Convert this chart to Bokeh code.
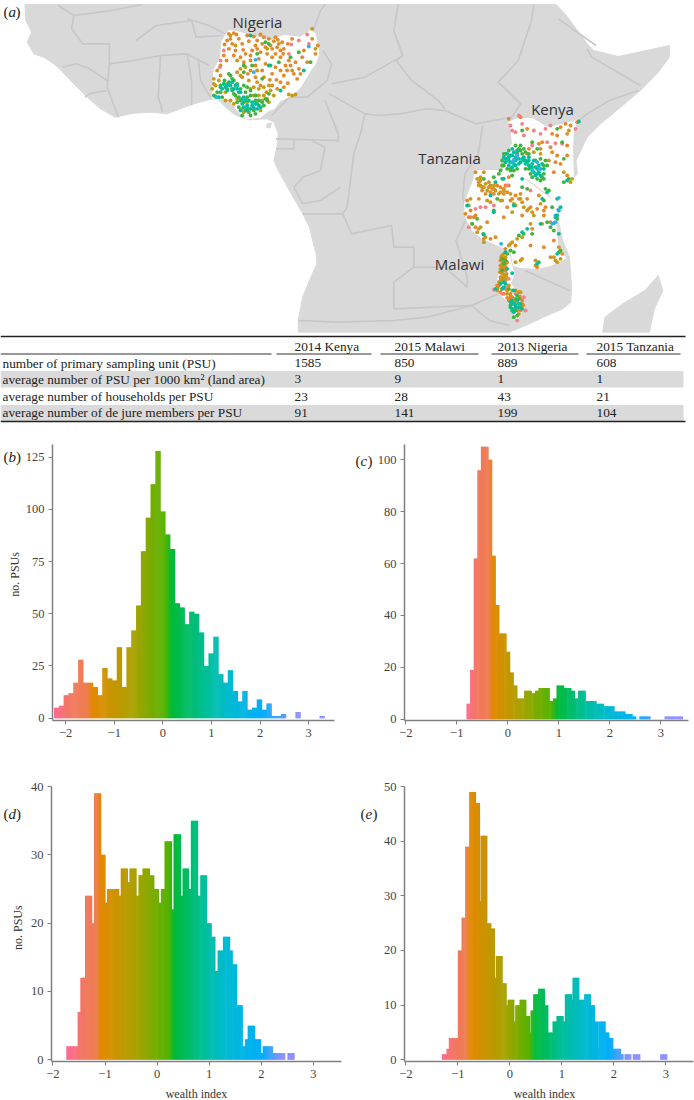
from bokeh.plotting import figure
from bokeh.layouts import column, row
from bokeh.models import Range1d, Label, FixedTicker
from bokeh.embed import file_html
from bokeh.resources import INLINE
import numpy as np

SERIF = "Liberation Serif"

# ---------- table ----------
table_columns = ["2014 Kenya", "2015 Malawi", "2013 Nigeria", "2015 Tanzania"]
table_rows = ["number of primary sampling unit (PSU)",
              "average number of PSU per 1000 km\u00b2 (land area)",
              "average number of households per PSU",
              "average number of de jure members per PSU"]
table_values = [["1585", "850", "889", "608"],
                ["3", "9", "1", "1"],
                ["23", "28", "43", "21"],
                ["91", "141", "199", "104"]]

# ---------- histograms: bin edges and counts ----------
b_start, b_width = -2.24, 0.0993
b_counts = [5, 6, 11, 12, 17, 28, 17, 17, 15, 11, 24, 19, 18, 34, 15, 34, 42, 54, 80, 96, 112, 128,
            99, 88, 81, 55, 53, 45, 51, 50, 41, 25, 31, 39, 21, 17, 23, 13, 8, 13, 4, 5, 9, 4, 7,
            1, 1, 2, 0, 0, 3, 0, 0, 0, 0, 1]
c_start, c_width = -0.81, 0.0706
c_counts = [6, 19, 62, 96, 105, 105, 100, 63, 44, 33, 33, 26, 18, 13, 8, 8, 11, 11, 10, 11, 12, 12, 12,
            7, 8, 13, 13, 12, 12, 11, 8, 11, 11, 7, 7, 7, 6, 6, 5, 5, 5, 3, 3, 3, 2, 2, 1, 0, 1, 1, 1,
            0, 0, 0, 0, 1, 1, 1, 1, 1]
d_edges = [-1.744, -1.615, -1.526, -1.474, -1.385, -1.256, -1.212, -1.083, -1.0, -.962, -.737, -.699,
           -.571, -.532, -.404, -.359, -.282, -.147, -.064, .026, .071, .141, .276, .314, .449, .487,
           .603, .647, .776, .827, .949, 1.038, 1.109, 1.160, 1.263, 1.391, 1.442, 1.526, 1.635, 1.686,
           1.737, 1.872, 1.987, 2.026, 2.212, 2.449, 2.5, 2.628]
d_counts = [2, 2, 7, 12, 24, 20, 39, 30, 23, 25, 24, 28, 26, 28, 24, 27, 28, 27, 25, 23, 25, 32, 22, 33,
            24, 28, 25, 35, 24, 27, 20, 18, 13, 16, 18, 16, 14, 8, 2, 3, 5, 3, 1, 2, 1, 0, 1]
e_edges = [-1.308, -1.218, -1.173, -1.0, -.929, -.859, -.782, -.660, -.583, -.564, -.442, -.365, -.295,
           -.269, -.147, -.071, -.045, .077, .103, .186, .308, .378, .397, .449, .545, .667, .731, .821,
           .897, 1.026, 1.058, 1.192, 1.205, 1.327, 1.429, 1.551, 1.628, 1.686, 1.699, 1.833, 1.904,
           1.981, 2.128, 2.179, 2.205, 2.327, 2.365, 2.5, 2.891, 3.019]
e_counts = [1, 2, 4, 20, 26, 39, 49, 47, 29, 41, 25, 24, 15, 19, 14, 10, 11, 7, 10, 11, 8, 5, 9, 12, 13,
            10, 5, 7, 8, 7, 12, 11, 15, 11, 12, 10, 7, 2, 7, 5, 4, 2, 1, 0, 1, 0, 1, 0, 1]

hue_colors = ["#FF6C91", "#F2785F", "#EE7D50", "#E38900", "#A9A200", "#53B400", "#00BA38",
              "#00BF9A", "#00BBD0", "#00AEFA", "#8F91FF"]
b_hue_at = [-2.2, -1.9, -1.56, -1.45, -0.6, 0.05, 0.18, 0.9, 1.35, 2.0, 2.8]
c_hue_at = [-0.8, -0.6, -0.36, -0.3, 0.25, 0.85, 0.98, 1.5, 1.95, 2.5, 3.1]
d_hue_at = [-1.7, -1.4, -1.17, -1.08, -0.4, 0.22, 0.33, 0.9, 1.3, 2.0, 2.4]
e_hue_at = [-1.3, -1.05, -0.85, -0.76, -0.1, 0.38, 0.48, 1.0, 1.45, 1.9, 2.3]

# ---------- map outlines ----------
land_mainland = [(55, 12), (57, 60), (70, 95), (60, 125), (75, 160), (100, 172), (125, 195), (140, 215), (165, 250),
                 (195, 290), (225, 325), (258, 350), (300, 338), (340, 335), (375, 340), (430, 312), (470, 297),
                 (490, 298), (510, 325), (530, 345), (560, 358), (600, 355), (615, 365), (625, 400), (622, 440),
                 (615, 480), (625, 510), (650, 570), (680, 640), (695, 680), (710, 760), (712, 790), (695, 840),
                 (680, 890), (670, 960), (670, 995), (1145, 995), (1190, 970), (1230, 945), (1265, 925),
                 (1283, 905), (1285, 860), (1280, 770), (1265, 720), (1255, 660), (1255, 600), (1270, 560),
                 (1298, 520), (1295, 480), (1320, 410), (1350, 370), (1400, 315), (1440, 270), (1480, 215),
                 (1505, 170), (1505, 135), (1390, 168), (1335, 150), (1320, 130), (1290, 75), (1270, 40), (1250, 12)]
land_madagascar = [(1480, 825), (1490, 870), (1470, 930), (1460, 995), (1355, 995), (1360, 950), (1400, 910), (1450, 870)]
land_bioko = [(600, 370), (610, 368), (606, 383), (598, 380)]
border_lines = [
    [(130, 15), (165, 45), (240, 32), (320, 12)],
    [(165, 45), (160, 85), (185, 130), (245, 130), (245, 190), (300, 180), (360, 165), (420, 160), (440, 175), (470, 195)],
    [(305, 120), (350, 75), (430, 60), (440, 110), (500, 105)],
    [(420, 55), (470, 75), (505, 100)],
    [(360, 165), (355, 290), (365, 335)],
    [(420, 160), (430, 240), (430, 315)],
    [(445, 175), (450, 240), (475, 295)],
    [(245, 190), (240, 260), (265, 350)],
    [(140, 200), (170, 190), (200, 205), (240, 240)],
    [(240, 270), (200, 280), (190, 290)],
    [(705, 85), (720, 30), (730, 12)],
    [(725, 150), (745, 190), (735, 240), (690, 290), (650, 290), (610, 345)],
    [(895, 12), (885, 90), (905, 165), (890, 180), (925, 240), (985, 300), (1000, 325)],
    [(745, 250), (820, 230), (900, 170)],
    [(730, 300), (760, 400), (760, 425)],
    [(740, 280), (820, 340), (850, 345), (900, 340), (960, 325), (1000, 330), (1070, 370), (1150, 350)],
    [(1200, 12), (1195, 60), (1165, 180), (1120, 245), (1170, 310), (1150, 350)],
    [(1255, 55), (1340, 135)],
    [(1320, 145), (1330, 170), (1440, 255)],
    [(1435, 270), (1370, 300), (1320, 340), (1300, 362)],
    [(820, 340), (810, 400), (795, 460), (780, 620), (770, 640)],
    [(620, 415), (760, 420)],
    [(660, 420), (660, 445), (620, 445)],
    [(700, 420), (730, 440), (720, 510), (680, 530), (660, 560), (680, 610), (720, 600), (765, 560)],
    [(1085, 375), (1075, 460), (1045, 520), (1040, 590), (1050, 650), (1025, 720), (1050, 830), (1050, 860), (1000, 800), (930, 800)],
    [(680, 640), (770, 640), (790, 700), (880, 675), (885, 740), (930, 740), (930, 800), (885, 845), (885, 925), (1060, 915)],
    [(670, 960), (760, 965), (885, 960), (960, 950), (1060, 915), (1100, 960), (1145, 975)],
    [(1060, 915), (1120, 880), (1145, 860)],
    [(1180, 810), (1280, 870)],
]
white_nigeria = [(65, 60), (85, 30), (115, 35), (150, 45), (210, 60), (250, 45), (300, 50), (330, 30), (345, 40), (355, 100),
                 (345, 130), (330, 150), (300, 200), (275, 225), (240, 240), (220, 265), (205, 270), (180, 290), (140, 295),
                 (110, 270), (85, 235), (35, 235), (40, 150), (60, 110)]
white_east = [(508, 122), (517, 118), (532, 118), (547, 127), (557, 125), (577, 120), (573, 130), (572, 147), (573, 180),
              (560, 200), (557, 210), (555, 220), (557, 243), (565, 258), (550, 265), (537, 268), (520, 267), (513, 265),
              (510, 250), (493, 243), (480, 237), (472, 230), (465, 217), (464, 203), (473, 180), (475, 170), (483, 170),
              (503, 170), (508, 150), (512, 143), (510, 123)]
white_malawi = [(125, 130), (145, 130), (160, 190), (150, 220), (185, 260), (190, 290), (170, 330), (155, 300), (140, 270), (105, 240), (115, 190)]

# ---------- survey clusters, three crops of the map, by colour ----------
ng_orange = [(85,40),(100,38),(108,42),(72,72),(80,60),(95,70),(125,70),(140,45),(160,48),(180,42),(185,70),(205,55),(220,62),(235,70),(215,85),(240,90),(225,100),(250,85),(262,70),(275,55),(128,88),(135,100),(155,90),(165,75),(180,95),(195,80),(105,90),(70,105),(100,105),(130,125),(150,120),(175,115),(195,130),(265,120),(270,135),(285,125),(295,145),(260,150),(290,175),(280,160),(320,125),(345,100),(335,55),(352,75),(250,165),(240,185),(230,205),(262,188),(208,178),(165,170),(142,160),(125,170),(110,155),(180,195),(198,215),(215,160),(225,140),(310,90),(305,110),
             (90,55),(115,55),(145,62),(170,60),(190,50),(225,50),(245,65),(200,100),(215,110),(240,110),(120,110),(85,85),(150,105),(165,135),(185,150),(255,135),(275,150),(300,160),(240,150),(228,178),(250,200),(215,195),(78,120),(230,80),(210,75),(232,58),(248,100),(170,85)]
ng_gold = [(60,135),(50,150),(40,175),(35,205),(55,180),(80,190),(170,185),(175,205),(190,225),(205,245),(140,245),(130,275),(180,270),(275,225),(265,222),(285,222),(100,250),(75,215),(220,225),(335,25),(345,85),(150,150),(120,145),(145,180),(205,195),
           (110,120),(120,165),(135,140),(170,150),(190,170),(160,200),(190,200),(150,205),(210,210),(200,235),(45,195),(60,165),(40,190),(75,240),(90,240),(110,235),(125,265),(185,240),(160,225),(175,225),(200,85),(90,45),(105,75)]
ng_green = [(95,175),(85,160),(60,195),(72,180),(110,190),(120,205),(135,215),(150,225),(165,240),(120,240),(115,260),(140,262),(150,285),(170,250),(190,255),(205,220),(235,125),(205,70),(195,65),(170,100),(130,155),(270,110),(330,125),(295,95),(210,135),(140,200),(100,220),(65,230),(40,225),(125,285),(160,270),(200,240),
            (70,190),(80,205),(95,210),(105,225),(130,195),(150,210),(115,230),(130,245),(135,270),(145,275),(165,280),(185,245),(195,235),(90,165),(100,180),(60,215),(50,215),(165,225),(175,240),(140,230),(110,245),(130,135),(155,135),(185,175)]
ng_teal = [(75,200),(90,195),(100,205),(115,215),(85,185),(65,205),(130,230),(125,250),(145,240),(155,245),(160,262),(170,265),(150,265),(120,270),(110,205),(140,255),(205,135),(150,45),(310,150),(240,210),(45,228),(55,230),(180,260),
           (70,190),(80,195),(95,205),(105,195),(120,215),(80,210),(135,240),(140,270),(165,250),(175,255),(155,255),(130,260),(110,195),(95,185),(60,200),(125,235)]
ng_blue = [(160,155),(48,230),(325,78),(165,118)]
ng_pink = [(60,120),(320,42),(295,60),(265,100),(325,70),(272,72),(70,90),(58,140)]

ke_pink = [(155,60),(165,65),(150,45),(185,40),(220,60),(240,70),(255,55),(270,45),(305,100),(285,98),(260,95),(215,105),(345,55),(190,75),(175,15),(60,290),(45,295),(30,320),(100,285),(75,290),(210,240),(140,225)]
ke_orange = [(145,25),(180,20),(200,55),(235,100),(275,70),(290,75),(320,70),(330,45),(315,40),(300,50),(350,35),(240,115),(245,95),(270,110),(275,125),(290,135),(285,155),(320,135),(320,105),(265,150),(300,160),(280,185),(320,195),(60,210),(70,185),(45,185),(85,215),(95,235),(65,240),(75,250),(120,230),(135,225),(130,250),(150,270),(165,255),(180,250),(185,275),(165,285),(140,290),(120,270),(200,300),(215,305),(230,295),(250,300),(20,270),(15,310),(30,300),(55,265),(100,250),(145,200),(170,125),(200,130),(205,115),
             (55,215),(70,230),(90,245),(110,225),(120,245),(140,245),(155,265),(175,265),(60,225),(100,235),(130,235),(85,230),(200,265),(235,255),(210,290),(255,290),(90,275),(25,285),(40,320)]
ke_gold = [(50,205),(60,200),(75,220),(90,225),(105,240),(180,265),(205,295),(240,280),(325,60),(335,205),(330,215),(220,125),(240,130),(155,305),(80,270),(30,265),(65,230),(125,270),(310,185),(160,280),(220,315),(145,225),
           (55,225),(80,240),(115,250),(130,240),(100,225),(190,290),(150,250)]
ke_green = [(185,60),(215,95),(230,115),(305,95),(310,145),(125,205),(100,200),(70,205),(110,265),(185,230),(200,235),(265,240),(255,235),(310,215),(325,205),(275,290),(250,270),(100,300),(180,120),(190,115),(290,55),(50,325),(135,130),(175,115),(185,130),(195,125),(130,165),(150,180),(170,175),(140,175),(195,175),(215,200),(230,205),(245,200),(255,150),(250,190),(205,130),(260,165),(120,180),
            (125,150),(130,130),(145,120),(165,105),(180,105),(190,150),(205,175),(210,190),(240,210),(250,205),(225,150),(240,145),(250,165),(150,175),(160,180),(125,165),(115,190),(155,195)]
ke_teal = [(140,145),(150,135),(160,125),(170,130),(135,155),(150,155),(145,165),(165,150),(155,170),(175,145),(180,155),(190,140),(205,150),(215,160),(225,170),(235,165),(245,160),(235,185),(220,185),(240,195),(205,165),(195,160),(145,140),(165,165),(130,140),(250,175),(205,140),(105,215),(130,205),(20,285),(260,245),(300,290),(295,300),(290,265),(90,255),(245,265),(320,210),(185,205),(100,305),(160,285),(285,320),(355,33),
           (140,130),(155,115),(165,140),(155,135),(145,150),(160,160),(175,160),(170,120),(135,145),(200,155),(210,170),(220,150),(230,175),(215,170),(240,175),(225,195),(230,190),(185,145),(195,150)]
ke_blue = [(160,148),(170,135),(215,180),(230,155),(238,175),(295,262),(285,315),(293,298),(155,155)]

tz_orange = [(25,20),(45,15),(80,35),(55,55),(45,50),(70,85),(90,85),(105,80),(130,20),(185,15),(215,55),(250,15),(270,35),(280,90),(250,110),(295,110),(305,130),(285,150),(270,140),(225,150),(230,170),(185,145),(165,105),(210,105),(150,100),(135,115),(130,150),(125,170),(120,185),(120,200),(135,180),(125,215),(110,240),(130,250),(145,270),(175,245),(180,265),(185,280),(155,260),(170,300),(135,235),
             (125,145),(135,160),(125,190),(130,210),(115,225),(125,235),(120,245),(140,240),(150,250),(160,275),(175,295),(175,310),(155,280),(110,225),(135,195),(120,165),
             (125,135),(130,155),(135,170),(128,205),(135,210),(120,150),(140,155),(128,175),(138,190),(112,232),(140,262),(150,258),(178,258),(185,270),(188,285),(180,300),(150,265),(165,295)]
tz_gold = [(60,50),(35,40),(50,65),(70,95),(75,80),(145,105),(155,95),(170,85),(185,80),(210,40),(245,40),(280,140),(290,155),(300,145),(225,165),(165,155),(180,150),(125,160),(130,130),(120,175),(130,200),(155,240),(165,275),(140,250),(110,235),
           (130,145),(120,210),(115,215),(145,225),(165,240),(180,245),(122,140),(135,140),(128,165),(118,185),(138,200),(128,190)]
tz_green = [(35,40),(68,70),(175,75),(190,70),(215,70),(270,50),(295,125),(300,120),(235,155),(160,125),(140,130),(150,120),(135,150),(125,145),(150,285),(170,315),(165,300),(180,290),(145,235),(170,255),(290,25),(260,35),(280,60),
            (130,160),(125,180),(165,265),(175,265),(155,300),(160,320)]
tz_teal = [(70,72),(185,65),(240,40),(200,55),(290,15),(295,70),(290,130),(140,175),(155,188),(130,230),(120,220),(105,235),(160,240),(150,290),(155,270),(165,290),(175,280),(170,270),(160,305),(185,295),(135,125),(230,160),
           (130,215),(125,235),(135,220),(160,280),(175,290),(155,295),(165,285),(150,275),(180,280)]
tz_blue = [(280,38),(275,40),(285,35),(122,100)]
tz_pink = [(100,238),(125,250),(145,205),(190,260),(195,300),(170,330),(165,250),(135,230),(25,50)]

map_labels = [("Nigeria", 257, 21), ("Kenya", 552, 108), ("Tanzania", 449, 157), ("Malawi", 459, 263)]

# ---------- helpers ----------
W, LAND, BORDER = 694, "#D9D9D9", "#C7C7C7"
TEXT = "#222222"

def plain(width, height, xr, yr):
    """Axis-free figure whose data units are the page's pixels."""
    p = figure(width=width, height=height, x_range=Range1d(*xr), y_range=Range1d(*yr), toolbar_location=None,
               output_backend="svg", min_border=0, outline_line_color=None)
    p.axis.visible = False
    p.grid.visible = False
    return p

def xs(pts, ox, sx=1/3):
    return [ox + a * sx for a, _ in pts]

def ys(pts, oy, sy=1/3):
    return [oy + b * sy for _, b in pts]

def write(p, text, x, y, size="15px", style="normal", color=TEXT, align="left", angle=0.0):
    p.add_layout(Label(x=x, y=y, text=text, angle=angle, text_font=SERIF, text_font_size=size, text_font_style=style,
                       text_color=color, text_align=align, text_baseline="middle"))

def tag(p, letter, x, y, off):
    """Upright brackets round an italic panel letter."""
    write(p, "(", x, y)
    write(p, letter, x + 5, y, style="italic")
    write(p, ")", x + off, y)

# ---------- map ----------
m = plain(W, 334, (0, 694), (334, 0))
for poly in (land_mainland, land_madagascar, land_bioko):
    m.patch(xs(poly, 0, 1/2.25), ys(poly, 0, 1/3), fill_color=LAND, line_color=LAND)
m.multi_line([xs(l, 0, 1/2.25) for l in border_lines], [ys(l, 0, 1/3) for l in border_lines],
             line_color=BORDER, line_width=1.6)
m.patch(xs(white_nigeria, 200), ys(white_nigeria, 20), fill_color="white", line_color="white")
m.patch([a for a, _ in white_east], [b for _, b in white_east], fill_color="white", line_color="white")
m.patch(xs(white_malawi, 460), ys(white_malawi, 210), fill_color="white", line_color="white")
m.line([525, 550], [178, 197], line_color="#DDDDDD", line_width=1.5)

DOT = {"pink": "#F4808A", "orange": "#E2892A", "gold": "#C69C14", "green": "#3FB43C", "teal": "#00BE9C", "blue": "#2FB0E6"}
groups = [(200, 20, {"orange": ng_orange, "gold": ng_gold, "pink": ng_pink, "green": ng_green, "teal": ng_teal, "blue": ng_blue}),
          (460, 110, {"orange": ke_orange, "gold": ke_gold, "pink": ke_pink, "green": ke_green, "teal": ke_teal, "blue": ke_blue}),
          (460, 210, {"orange": tz_orange, "gold": tz_gold, "pink": tz_pink, "green": tz_green, "teal": tz_teal, "blue": tz_blue})]
for ox, oy, g in groups:
    for name, pts in g.items():
        m.scatter(xs(pts, ox), ys(pts, oy), size=3.9, color=DOT[name], line_color=None)

for txt, x, y in map_labels:
    m.add_layout(Label(x=x, y=y, text=txt, text_font="Open Sans", text_font_size="15px", text_color="#333333",
                       text_align="center", text_baseline="middle"))
tag(m, "a", 3, 11, 12)

# ---------- table ----------
t = plain(W, 94, (0, 694), (428, 334))
band_top, band_bottom = [370.5, 404.5], [387, 420.5]
t.quad(left=0, right=683, top=band_top, bottom=band_bottom, fill_color="#DADADA", line_color=None)
t.line([0, 685], [336, 336], line_color=TEXT, line_width=1.4)
t.line([0, 685], [421, 421], line_color=TEXT, line_width=1.4)
head_left, head_right = [0, 276, 380, 491, 586], [271, 371, 478, 578, 680]
t.segment(head_left, [353.5] * 5, head_right, [353.5] * 5, line_color="#333333", line_width=1)
col_x = [294, 394, 497, 596]
row_y = [362.7, 378.7, 396, 412.3]
for cx, h in zip(col_x, table_columns):
    write(t, h, cx, 346, size="13.3px")
for ry, r, vals in zip(row_y, table_rows, table_values):
    write(t, r, 2, ry, size="13.3px")
    for cx, v in zip(col_x, vals):
        write(t, v, cx, ry, size="13.3px")

# ---------- histograms ----------
def rgb(h):
    return np.array([int(h[i:i + 2], 16) for i in (1, 3, 5)], float)

STOPS = np.array([rgb(c) for c in hue_colors])

def colour_at(x, hue_at):
    v = [np.interp(x, hue_at, STOPS[:, i]) for i in range(3)]
    return "#%02x%02x%02x" % tuple(int(round(a)) for a in v)

def hist(edges, counts, hue_at, width, height, borders, xr, yr, yticks):
    p = figure(width=width, height=height, x_range=Range1d(*xr), y_range=Range1d(*yr), toolbar_location=None,
               output_backend="svg", min_border_left=borders[0], min_border_right=borders[1],
               min_border_top=borders[2], min_border_bottom=borders[3], outline_line_color=None)
    p.grid.visible = False
    left, right, top, fill = [], [], [], []
    for l, r, c in zip(edges[:-1], edges[1:], counts):
        if c == 0:
            continue
        n = max(1, int(round((r - l) / 0.02)))
        for k in range(n):
            a, b = l + (r - l) * k / n, l + (r - l) * (k + 1) / n
            # each strip runs a little under the next one so that no seam shows
            left.append(a); right.append(b + 0.012); top.append(c)
            fill.append(colour_at((a + b) / 2, hue_at))
    p.quad(left=left, right=right, top=top, bottom=0, fill_color=fill, line_color=None)
    p.xaxis.ticker = FixedTicker(ticks=[-2, -1, 0, 1, 2, 3])
    p.yaxis.ticker = FixedTicker(ticks=yticks)
    for ax in (p.xaxis[0], p.yaxis[0]):
        ax.axis_line_color = "#808080"
        ax.axis_line_width = 1.5
        ax.major_tick_line_color = "#808080"
        ax.major_tick_in = 0
        ax.major_tick_out = 4
        ax.minor_tick_line_color = None
        ax.major_label_text_font = SERIF
        ax.major_label_text_font_size = "12.5px"
        ax.major_label_text_color = "#444444"
        ax.major_label_standoff = 4
    return p

b_edges = [b_start + b_width * i for i in range(len(b_counts) + 1)]
c_edges = [c_start + c_width * i for i in range(len(c_counts) + 1)]

# strips left of each panel carry the panel letter and the y-axis title
sb = plain(22, 323, (0, 22), (751, 428))
sc = plain(26, 323, (347, 373), (751, 428))
sd = plain(27, 335, (0, 27), (1086, 751))
se = plain(31, 335, (347, 378), (1086, 751))
write(sb, "no. PSUs", 14, 580, size="12px", color="#333333", align="center", angle=np.pi / 2)
write(sd, "no. PSUs", 17, 923, size="12px", color="#333333", align="center", angle=np.pi / 2)
tag(sb, "b", 3, 443, 12.5)
tag(sc, "c", 355, 447, 12)
tag(sd, "d", 3, 784, 12.5)
tag(se, "e", 360, 785, 12)

pb = hist(b_edges, b_counts, b_hue_at, 325, 323, (29, 13, 16, 30), (-2.27, 3.53), (-1.1, 131.06), [0, 25, 50, 75, 100, 125])
pc = hist(c_edges, c_counts, c_hue_at, 321, 323, (31, 6, 16, 31), (-2.025, 3.544), (-0.5, 105.9), [0, 20, 40, 60, 80, 100])
pd_ = hist(d_edges, d_counts, d_hue_at, 320, 335, (24, 6, 35, 25), (-2.027, 3.539), (-0.25, 40), [0, 10, 20, 30, 40])
pe = hist(e_edges, e_counts, e_hue_at, 316, 335, (26, 1, 35, 25), (-2.025, 3.533), (-0.31, 50), [0, 10, 20, 30, 40, 50])

# strip below the lower panels for the x-axis titles
foot = plain(W, 14, (0, 694), (1100, 1086))
write(foot, "wealth index", 196, 1093, size="12px", color="#333333", align="center")
write(foot, "wealth index", 544, 1093, size="12px", color="#333333", align="center")

page = column(m, t, row(sb, pb, sc, pc), row(sd, pd_, se, pe), foot)
open("out.html", "w").write(file_html(page, INLINE))
